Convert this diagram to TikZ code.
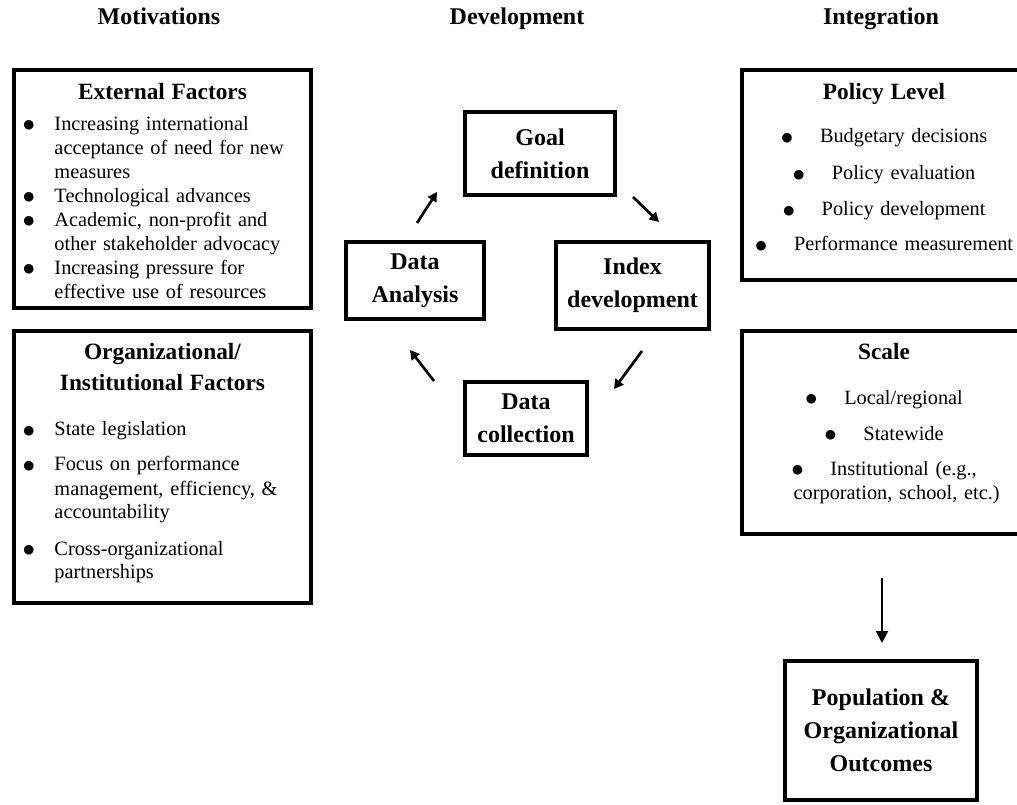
\documentclass[tikz,border=0pt]{standalone}
\usepackage{fontspec}
\setmainfont{Liberation Serif}
\usetikzlibrary{arrows.meta}
\newcommand\boxtitle[1]{{\fontsize{17.5}{18}\selectfont\bfseries #1}}
\newcommand\itembul{\raisebox{-1pt}{\scalebox{1.3}{$\bullet$}}}

\begin{document}
\begin{tikzpicture}[x=0.75pt,y=-0.75pt,
  box/.style={draw, line width=2.6pt, inner sep=0pt, outer sep=0pt},
  boxtext/.style={font=\fontsize{15.25}{18}\selectfont, inner sep=0pt, text width=210pt},
  stage/.style={box, align=center, font=\bfseries\fontsize{18}{24.75}\selectfont},
  head/.style={font=\bfseries\fontsize{18}{20}\selectfont, anchor=base},
  cyc/.style={line width=2pt, -{Triangle[length=7pt,width=7.5pt]}}]
\clip (0,0) rectangle (1017,805);

% column heads
\node[head] (motiv) at (159,25) {Motivations};
\node[head] (devel) at (517,25) {Development};
\node[head] (integ) at (881,25) {Integration};

% motivations
\node[box, minimum width=222.75pt, minimum height=178.5pt] (ext) at (162.5,189) {};
\node[boxtext, anchor=base] (extTxt) at (162.5,100) {%
\begin{tabular}[t]{@{}p{24pt}@{}p{186pt}@{}}
\multicolumn{2}{@{}c@{}}{\boxtitle{External Factors}}\\[5pt]
\itembul & Increasing international\\
 & acceptance of need for new\\
 & measures\\
\itembul & Technological advances\\
\itembul & Academic, non-profit and\\
 & other stakeholder advocacy\\
\itembul & Increasing pressure for\\
 & effective use of resources
\end{tabular}};

\node[box, minimum width=222.75pt, minimum height=204pt] (org) at (162.5,467) {};
\node[boxtext, anchor=base] (orgTxt) at (162.5,360) {%
\begin{tabular}[t]{@{}p{24pt}@{}p{186pt}@{}}
\multicolumn{2}{@{}c@{}}{\boxtitle{Organizational/}}\\[5.25pt]
\multicolumn{2}{@{}c@{}}{\boxtitle{Institutional Factors}}\\[15.75pt]
\itembul & State legislation\\[8.25pt]
\itembul & Focus on performance\\
 & management, efficiency, \&\\
 & accountability\\[9pt]
\itembul & Cross-organizational\\
 & partnerships
\end{tabular}};

% development cycle
\node[stage, minimum width=112.5pt, minimum height=62.25pt] (goal) at (540,153.5) {Goal\\definition};
\node[stage, minimum width=114.75pt, minimum height=65.25pt] (idx) at (632.5,285.5) {Index\\development};
\node[stage, minimum width=91.5pt, minimum height=54.75pt] (coll) at (526,418.5) {Data\\collection};
\node[stage, minimum width=103.5pt, minimum height=57.75pt] (ana) at (415,280.5) {Data\\Analysis};

\draw[cyc] ([shift={(2,-19)}]ana.north) -- ([shift={(-28,38.5)}]goal.west);
\draw[cyc] ([shift={(18,2)}]goal.south east) -- ([shift={(26.5,-20)}]idx.north);
\draw[cyc] ([shift={(9.5,22)}]idx.south) -- ([shift={(27,-29.5)}]coll.east);
\draw[cyc] ([shift={(-31,-1)}]coll.north west) -- ([shift={(-5,31)}]ana.south);

% integration
\node[box, minimum width=213pt, minimum height=157.5pt] (pol) at (884,175) {};
\node[boxtext, anchor=base, align=center] (polTxt) at (884,100) {\boxtitle{Policy Level}\\[14.25pt]
\itembul\hspace{20pt}Budgetary decisions\\[9.75pt]
\itembul\hspace{20pt}Policy evaluation\\[9pt]
\itembul\hspace{20pt}Policy development\\[8.25pt]
\itembul\hspace{20pt}Performance measurement};

\node[box, minimum width=213pt, minimum height=152.25pt] (scl) at (884,432.5) {};
\node[boxtext, anchor=base, align=center] (sclTxt) at (884,360) {\boxtitle{Scale}\\[15pt]
\itembul\hspace{20pt}Local/regional\\[9pt]
\itembul\hspace{20pt}Statewide\\[8.25pt]
\itembul\hspace{20pt}Institutional (e.g.,\\
\hspace*{19pt}corporation, school, etc.)};

\node[stage, minimum width=144pt, minimum height=104.25pt] (outc) at (881,730.5) {Population \&\\Organizational\\Outcomes};

\draw[line width=1.5pt, -{Triangle[length=9pt,width=9pt]}] ([shift={(-2,44)}]scl.south) -- ([shift={(1,-18)}]outc.north);
\end{tikzpicture}
\end{document}
